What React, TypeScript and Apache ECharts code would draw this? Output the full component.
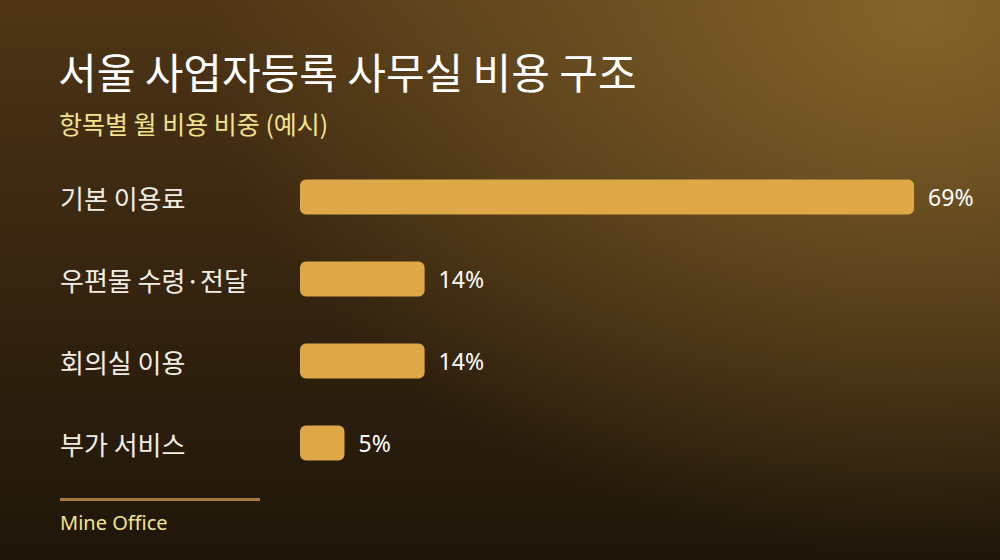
import React, { useEffect, useRef } from 'react';
import * as echarts from 'echarts';

const categories = ['기본 이용료', '우편물 수령·전달', '회의실 이용', '부가 서비스'];
const shares = [69, 14, 14, 5];

const titleText = '서울 사업자등록 사무실 비용 구조';
const subtitleText = '항목별 월 비용 비중 (예시)';
const footerText = 'Mine Office';

const FONT = "'Noto Sans CJK KR', 'Noto Sans', sans-serif";
const LATIN = "'Noto Sans', 'Noto Sans CJK KR', sans-serif";

const App: React.FC = () => {
  const chartRef = useRef<HTMLDivElement | null>(null);

  useEffect(() => {
    document.body.style.margin = '0';
    if (!chartRef.current) return;
    const chart = echarts.init(chartRef.current, null, { renderer: 'svg' });

    const option: echarts.EChartsOption = {
      animation: false,
      backgroundColor: 'transparent',
      grid: {
        left: 300,
        top: 156,
        width: 667.5,
        height: 328,
      },
      xAxis: {
        type: 'value',
        min: 0,
        max: 75,
        show: false,
      },
      yAxis: {
        type: 'category',
        data: categories,
        inverse: true,
        axisLine: { show: false },
        axisTick: { show: false },
        splitLine: { show: false },
        axisLabel: {
          align: 'left',
          margin: 240,
          color: '#f3eee4',
          fontSize: 26,
          fontFamily: FONT,
        },
      },
      series: [
        {
          type: 'bar',
          data: shares,
          barWidth: 35,
          itemStyle: {
            color: '#dea847',
            borderRadius: 6,
          },
          label: {
            show: true,
            position: 'right',
            distance: 14,
            formatter: '{c}%',
            color: '#ffffff',
            fontSize: 23,
            fontFamily: LATIN,
          },
        },
      ],
      graphic: [
        {
          type: 'text',
          x: 58,
          y: 70,
          style: {
            text: titleText,
            fill: '#ffffff',
            fontSize: 42,
            fontWeight: 'normal',
            fontFamily: FONT,
            verticalAlign: 'middle',
          },
        },
        {
          type: 'text',
          x: 59,
          y: 123,
          style: {
            text: subtitleText,
            fill: '#f4e38c',
            fontSize: 25,
            fontFamily: FONT,
            verticalAlign: 'middle',
          },
        },
        {
          type: 'rect',
          left: 60,
          top: 498,
          shape: { width: 200, height: 3 },
          style: { fill: '#a47b39' },
        },
        {
          type: 'text',
          x: 60,
          y: 522,
          style: {
            text: footerText,
            fill: '#f4e38c',
            fontSize: 20,
            fontFamily: LATIN,
            verticalAlign: 'middle',
          },
        },
      ],
    };

    chart.setOption(option);

    return () => {
      chart.dispose();
    };
  }, []);

  return (
    <div
      ref={chartRef}
      style={{
        position: 'fixed',
        left: 0,
        top: 0,
        width: '1000px',
        height: '560px',
        background:
          'radial-gradient(ellipse 720px 540px at 92% 2%, rgba(134, 102, 42, 0.95), rgba(134, 102, 42, 0) 100%), linear-gradient(180deg, #4e3516 0%, #2c1e0d 70%, #1f1609 100%)',
      }}
    />
  );
};

export default App;
